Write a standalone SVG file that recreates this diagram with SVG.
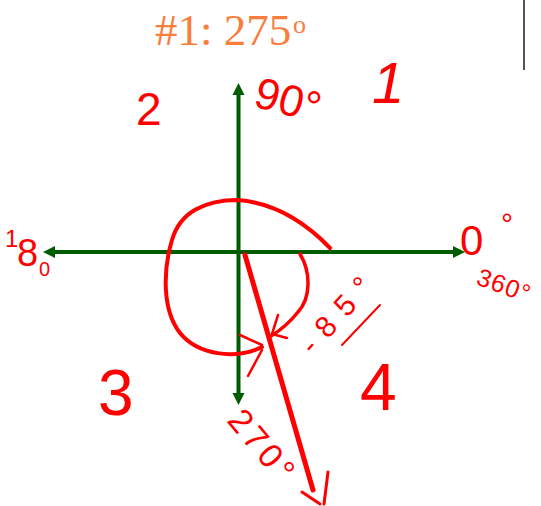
<svg xmlns="http://www.w3.org/2000/svg" width="541" height="506" viewBox="0 0 541 506">
<style>
.ax{stroke:#005C00;stroke-width:4;fill:none}
.ah{fill:#005C00}
.ink{stroke:#FF0000;fill:none;stroke-linecap:round;stroke-linejoin:round}
.hw{font-family:"Liberation Sans",Arial,sans-serif;fill:#FF0000}
</style>
<rect width="541" height="506" fill="#FFFFFF"/>
<g id="title">
<text x="155" y="45" font-family="Liberation Serif,Times New Roman,serif" font-size="45" fill="#F97D3C">#1: 275</text>
<text x="293" y="33" font-family="Liberation Serif,Times New Roman,serif" font-size="26" fill="#F97D3C">o</text>
</g>
<line id="edge-bar" x1="524" y1="0" x2="524" y2="70" stroke="#555555" stroke-width="2"/>
<g id="connectors">
<line class="ax" x1="54" y1="252" x2="454" y2="252"/>
<polygon class="ah" points="43,252 55,246 55,258"/>
<polygon class="ah" points="465,252 453,246 453,258"/>
<line class="ax" x1="238.5" y1="94" x2="238.5" y2="394"/>
<polygon class="ah" points="238.5,83 232.5,95 244.5,95"/>
<polygon class="ah" points="238.5,405 232.5,393 244.5,393"/>
</g>
<g id="strokes">
<path class="ink" stroke-width="4" d="M330,248 C305,222 275,203 238,200 C205,200 180,212 172,240 C163,270 162,310 180,333 C198,355 235,360 262,347"/>
<path class="ink" stroke-width="2.5" d="M240,335 L262,345 M262,350 L248,376"/>
<path class="ink" stroke-width="3.5" d="M300,254 C311,272 311,298 298,312 C290,322 281,330 271,336"/>
<path class="ink" stroke-width="2.5" d="M278,315 L272,334 L287,338"/>
<path class="ink" stroke-width="5" d="M245,255 L313,490"/>
<path class="ink" stroke-width="3" d="M302,492 L320,504 M328,472 L324,504"/>
<path class="ink" stroke-width="2" d="M342,345 L380,305"/>
</g>
<g id="labels">
<text class="hw" x="136" y="125" font-size="46">2</text>
<text class="hw" x="372" y="103" font-size="58" font-style="italic">1</text>
<text class="hw" font-size="44" transform="translate(252,106) rotate(15)">90°</text>
<text class="hw"><tspan x="5" y="247" font-size="24">1</tspan><tspan x="17" y="266" font-size="38">8</tspan><tspan x="39" y="276" font-size="20">0</tspan></text>
<text class="hw"><tspan x="460" y="255" font-size="42">0</tspan><tspan x="501" y="234" font-size="30">°</tspan></text>
<text class="hw" font-size="25" letter-spacing="1" transform="translate(475,284) rotate(20)">360°</text>
<text class="hw" font-size="30" letter-spacing="12" transform="translate(313,356) rotate(-48)">-85°</text>
<text class="hw" x="98" y="415" font-size="64">3</text>
<text class="hw" x="360" y="410" font-size="66">4</text>
<text class="hw" font-size="34" letter-spacing="4" transform="translate(226,421) rotate(50)">270°</text>
</g>
</svg>
